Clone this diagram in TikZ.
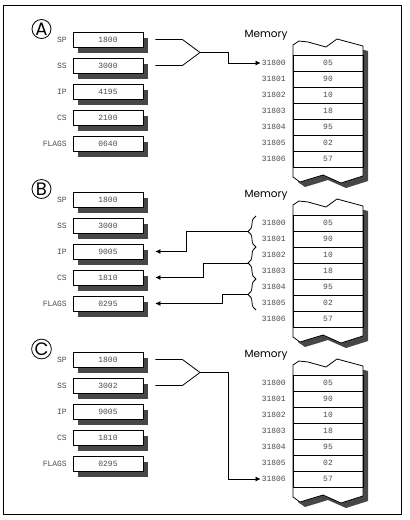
\documentclass[tikz,border=0pt]{standalone}
\usepackage{fontspec}
\setmonofont{Liberation Mono}
\newfontfamily\headfont{Poppins}
\usetikzlibrary{arrows.meta}
\usetikzlibrary{shadows}
\usetikzlibrary{decorations.pathreplacing}

\begin{document}
\begin{tikzpicture}[x=1pt, y=-1pt,
  tag/.style={draw, circle, line width=0.8pt, inner sep=0.3pt, minimum size=19pt, font=\headfont\fontsize{18}{18}\selectfont},
  reg/.style={draw, fill=white, line width=0.8pt, minimum width=70pt, minimum height=15pt, inner sep=0pt, text=black!70, font=\ttfamily\fontsize{8}{9}\selectfont,
    drop shadow={shadow xshift=5pt, shadow yshift=-5.5pt, fill=black!72, opacity=1}},
  regname/.style={anchor=east, inner sep=1pt, text=black!70, font=\ttfamily\fontsize{8}{9}\selectfont},
  memtitle/.style={inner sep=0pt, font=\headfont\fontsize{10.5}{11}\selectfont},
  column/.style={draw, fill=white, line width=0.8pt, line join=round,
    drop shadow={shadow xshift=5pt, shadow yshift=-5pt, fill=black!72, opacity=1}},
  cell/.style={draw, line width=0.8pt, minimum width=70pt, minimum height=16pt, inner sep=0pt, text=black!70, font=\ttfamily\fontsize{8}{9}\selectfont},
  addr/.style={anchor=east, inner sep=1pt, text=black!70, font=\ttfamily\fontsize{8}{9}\selectfont},
  link/.style={line width=0.8pt},
  arr/.style={link, -{Latex[length=5pt,width=5pt]}},
  grp/.style={link, decorate, decoration={brace, amplitude=8pt}}]

\useasboundingbox (0,0) rectangle (410,520);
\draw[link] (3,5) rectangle (401,514);

% panel A
\begin{scope}[shift={(0,0)}]{
\node[tag] (tagA) at (41.5,29) {A};

\node[reg] (spA) at (108,39.5) {1800};
\node[reg] (ssA) at (108,65.5) {3000};
\node[reg] (ipA) at (108,91.5) {4195};
\node[reg] (csA) at (108,117.5) {2100};
\node[reg] (flA) at (108,143.5) {0640};
\node[regname] (spnA) at (68,39.5) {SP};
\node[regname] (ssnA) at (68,65.5) {SS};
\node[regname] (ipnA) at (68,91.5) {IP};
\node[regname] (csnA) at (68,117.5) {CS};
\node[regname] (flnA) at (68,143.5) {FLAGS};

\node[memtitle] (memA) at (266,35) {Memory};
\draw[column] (293,45) -- (299,41) -- (308,42) -- (326,47) -- (337,39) -- (363,46)
  -- (363,176) -- (341,183) -- (323,175) -- (300,182) -- (293,177) -- cycle;

\node[cell] (mA0) at (328,63) {05}; \node[addr] (aA0) at (287,63) {31800};
\node[cell] (mA1) at (328,79) {90}; \node[addr] (aA1) at (287,79) {31801};
\node[cell] (mA2) at (328,95) {10}; \node[addr] (aA2) at (287,95) {31802};
\node[cell] (mA3) at (328,111) {18}; \node[addr] (aA3) at (287,111) {31803};
\node[cell] (mA4) at (328,127) {95}; \node[addr] (aA4) at (287,127) {31804};
\node[cell] (mA5) at (328,143) {02}; \node[addr] (aA5) at (287,143) {31805};
\node[cell] (mA6) at (328,159) {57}; \node[addr] (aA6) at (287,159) {31806};

%SS:SP into memory
\coordinate (joinA) at (200,52.5);
\coordinate (bendA) at (228,52.5);
\draw[link] (spA.east) ++(12,0) -- ++(27,0) -- (joinA);
\draw[link] (ssA.east) ++(12,0) -- ++(27,0) -- (joinA);
\draw[arr] (joinA) -- (bendA) |- (aA0.west);
} \end{scope}

% panel B
\begin{scope}[shift={(0,160)}]{
\node[tag] (tagB) at (41.5,29) {B};

\node[reg] (spB) at (108,39.5) {1800};
\node[reg] (ssB) at (108,65.5) {3000};
\node[reg] (ipB) at (108,91.5) {9005};
\node[reg] (csB) at (108,117.5) {1810};
\node[reg] (flB) at (108,143.5) {0295};
\node[regname] (spnB) at (68,39.5) {SP};
\node[regname] (ssnB) at (68,65.5) {SS};
\node[regname] (ipnB) at (68,91.5) {IP};
\node[regname] (csnB) at (68,117.5) {CS};
\node[regname] (flnB) at (68,143.5) {FLAGS};

\node[memtitle] (memB) at (266,35) {Memory};
\draw[column] (293,45) -- (299,41) -- (308,42) -- (326,47) -- (337,39) -- (363,46)
  -- (363,176) -- (341,183) -- (323,175) -- (300,182) -- (293,177) -- cycle;

\node[cell] (mB0) at (328,63) {05}; \node[addr] (aB0) at (287,63) {31800};
\node[cell] (mB1) at (328,79) {90}; \node[addr] (aB1) at (287,79) {31801};
\node[cell] (mB2) at (328,95) {10}; \node[addr] (aB2) at (287,95) {31802};
\node[cell] (mB3) at (328,111) {18}; \node[addr] (aB3) at (287,111) {31803};
\node[cell] (mB4) at (328,127) {95}; \node[addr] (aB4) at (287,127) {31804};
\node[cell] (mB5) at (328,143) {02}; \node[addr] (aB5) at (287,143) {31805};
\node[cell] (mB6) at (328,159) {57}; \node[addr] (aB6) at (287,159) {31806};

%braces
\draw[grp] (256,87) -- (256,56);
\draw[grp] (256,119) -- (256,87);
\draw[grp] (256,150) -- (256,119);

\coordinate (tipB1) at (248,71.5);
\coordinate (tipB2) at (248,103);
\coordinate (tipB3) at (248,134.5);
\coordinate (bendB1) at (186,71.5);
\coordinate (bendB2) at (203,103);
\coordinate (bendB3) at (222,134.5);
\draw[arr, shorten >=12pt] (tipB1) -- (bendB1) |- (ipB.east);
\draw[arr, shorten >=12pt] (tipB2) -- (bendB2) |- (csB.east);
\draw[arr, shorten >=12pt] (tipB3) -- (bendB3) |- (flB.east);
} \end{scope}

% panel C
\begin{scope}[shift={(0,320)}]{
\node[tag] (tagC) at (41.5,29) {C};

\node[reg] (spC) at (108,39.5) {1800};
\node[reg] (ssC) at (108,65.5) {3002};
\node[reg] (ipC) at (108,91.5) {9005};
\node[reg] (csC) at (108,117.5) {1810};
\node[reg] (flC) at (108,143.5) {0295};
\node[regname] (spnC) at (68,39.5) {SP};
\node[regname] (ssnC) at (68,65.5) {SS};
\node[regname] (ipnC) at (68,91.5) {IP};
\node[regname] (csnC) at (68,117.5) {CS};
\node[regname] (flnC) at (68,143.5) {FLAGS};

\node[memtitle] (memC) at (266,35) {Memory};
\draw[column] (293,45) -- (299,41) -- (308,42) -- (326,47) -- (337,39) -- (363,46)
  -- (363,176) -- (341,183) -- (323,175) -- (300,182) -- (293,177) -- cycle;

\node[cell] (mC0) at (328,63) {05}; \node[addr] (aC0) at (287,63) {31800};
\node[cell] (mC1) at (328,79) {90}; \node[addr] (aC1) at (287,79) {31801};
\node[cell] (mC2) at (328,95) {10}; \node[addr] (aC2) at (287,95) {31802};
\node[cell] (mC3) at (328,111) {18}; \node[addr] (aC3) at (287,111) {31803};
\node[cell] (mC4) at (328,127) {95}; \node[addr] (aC4) at (287,127) {31804};
\node[cell] (mC5) at (328,143) {02}; \node[addr] (aC5) at (287,143) {31805};
\node[cell] (mC6) at (328,159) {57}; \node[addr] (aC6) at (287,159) {31806};

%SS:SP into memory
\coordinate (joinC) at (200,52.5);
\coordinate (bendC) at (228,52.5);
\draw[link] (spC.east) ++(12,0) -- ++(27,0) -- (joinC);
\draw[link] (ssC.east) ++(12,0) -- ++(27,0) -- (joinC);
\draw[arr] (joinC) -- (bendC) |- (aC6.west);
} \end{scope}

\end{tikzpicture}
\end{document}
